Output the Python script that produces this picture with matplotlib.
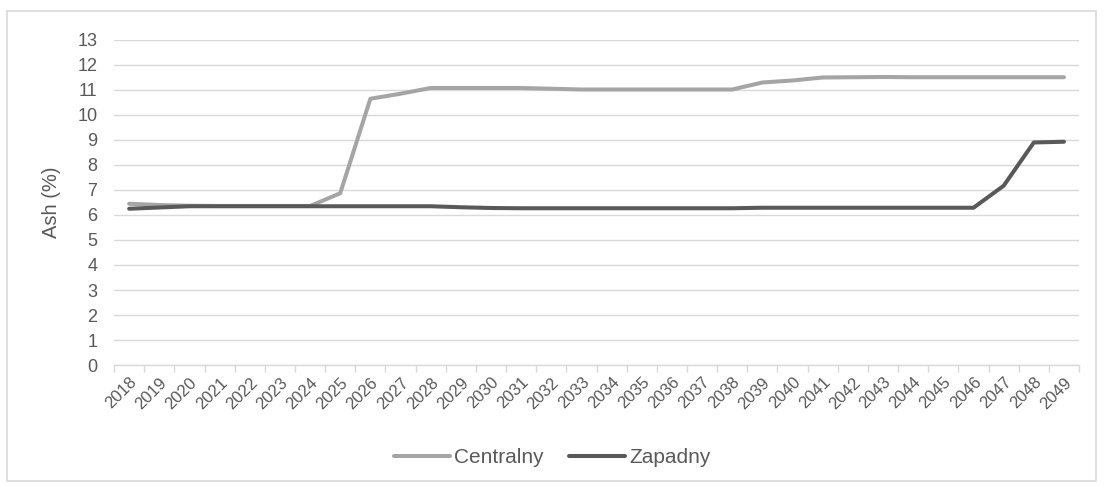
import matplotlib
matplotlib.use('Agg')
import matplotlib.pyplot as plt
from matplotlib.patches import Rectangle
from matplotlib.ticker import FixedLocator
import numpy as np

matplotlib.rcParams['font.family'] = ['Liberation Sans', 'DejaVu Sans']

years = list(range(2018, 2050))
centralny = [6.45, 6.40, 6.37, 6.36, 6.36, 6.36, 6.36, 6.87, 10.65, 10.85,
             11.08, 11.08, 11.08, 11.08, 11.05, 11.02, 11.02, 11.02, 11.02, 11.02,
             11.02, 11.30, 11.38, 11.50, 11.51, 11.52, 11.51, 11.51, 11.51, 11.51,
             11.51, 11.51]
zapadny = [6.25, 6.30, 6.35, 6.35, 6.35, 6.35, 6.35, 6.35, 6.35, 6.35,
           6.35, 6.31, 6.28, 6.27, 6.27, 6.27, 6.27, 6.27, 6.27, 6.27,
           6.27, 6.29, 6.29, 6.29, 6.29, 6.29, 6.29, 6.29, 6.29, 7.17,
           8.90, 8.93]

text_col = '#595959'
grid_col = '#D9D9D9'

fig = plt.figure(figsize=(11.04, 4.87), dpi=100)
ax = fig.add_axes([0.1033, 0.2505, 0.8741, 0.6674])

x = np.arange(len(years))
ax.plot(x, centralny, color='#A5A5A5', lw=2.9, solid_capstyle='round',
        solid_joinstyle='round', label='Centralny')
ax.plot(x, zapadny, color='#595959', lw=2.9, solid_capstyle='round',
        solid_joinstyle='round', label='Zapadny')

ax.set_xlim(-0.5, len(years) - 0.5)
ax.set_ylim(0, 13)
ax.set_yticks(range(0, 14))
ax.grid(axis='y', color=grid_col, lw=1)
ax.set_axisbelow(True)

ax.set_xticks(x)
ax.set_xticklabels([str(y) for y in years], rotation=45, ha='right',
                   rotation_mode='anchor', color=text_col, fontsize=12)
ax.xaxis.set_minor_locator(FixedLocator(np.arange(-0.5, len(years), 1)))
ax.tick_params(axis='x', which='major', length=0, pad=7)
ax.tick_params(axis='x', which='minor', length=5, color=grid_col, width=1)
ax.tick_params(axis='y', length=0, labelsize=13, labelcolor=text_col, pad=12)

for s in ['top', 'right', 'left']:
    ax.spines[s].set_visible(False)
ax.spines['bottom'].set_color(grid_col)
ax.spines['bottom'].set_linewidth(1)

ax.set_ylabel('Ash (%)', color=text_col, fontsize=14.5, labelpad=12)

leg = fig.legend(loc='center', bbox_to_anchor=(0.5, 0.06), ncol=2,
                 frameon=False, fontsize=15, handlelength=2.7,
                 handletextpad=0.2, columnspacing=1.2)
for t in leg.get_texts():
    t.set_color(text_col)

# chart area frame
fig.patches.append(Rectangle((0.0065, 0.012), 0.986, 0.966, transform=fig.transFigure,
                             fill=False, edgecolor=grid_col, lw=1.2))

fig.savefig('out.png', dpi=100, facecolor='white')
